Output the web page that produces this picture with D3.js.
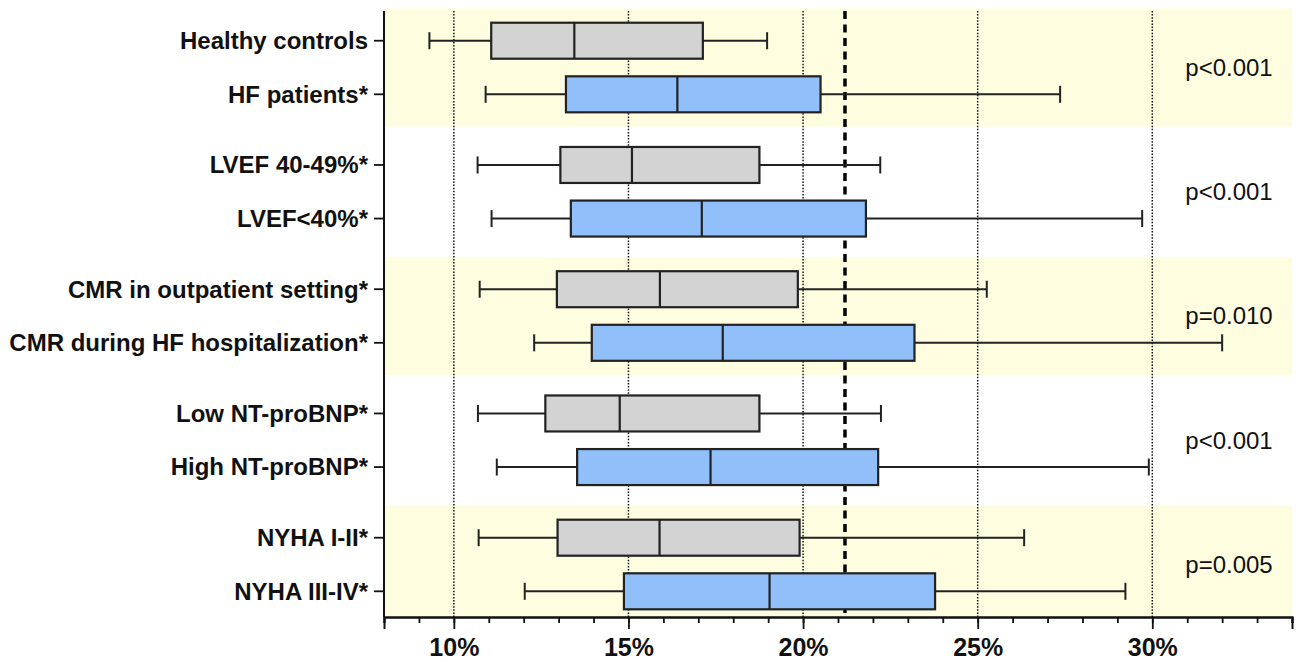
<!DOCTYPE html>
<html>
<head>
<meta charset="utf-8">
<script src="https://cdn.jsdelivr.net/npm/d3@7"></script>
<style>
  body { margin: 0; background: #fff; }
  svg { display: block; font-family: "Liberation Sans", Arial, sans-serif; }
</style>
</head>
<body>
<svg id="chart" width="1298" height="662"></svg>
<script>
// Rows, top to bottom (two per comparison group)
const categories = [
  'Healthy controls', 'HF patients*',
  'LVEF 40-49%*', 'LVEF<40%*',
  'CMR in outpatient setting*', 'CMR during HF hospitalization*',
  'Low NT-proBNP*', 'High NT-proBNP*',
  'NYHA I-II*', 'NYHA III-IV*',
];

// Box plot values, in percent
const whiskerLow  = [9.30, 10.91, 10.68, 11.08, 10.74, 12.30, 10.69, 11.23, 10.71, 12.03];
const q1          = [11.07, 13.21, 13.05, 13.35, 12.95, 13.95, 12.62, 13.53, 12.97, 14.87];
const median      = [13.45, 16.40, 15.10, 17.10, 15.90, 17.70, 14.75, 17.35, 15.89, 19.04];
const q3          = [17.13, 20.50, 18.75, 21.80, 19.85, 23.19, 18.75, 22.15, 19.90, 23.78];
const whiskerHigh = [18.97, 27.36, 22.21, 29.71, 25.26, 32.00, 22.23, 29.90, 26.33, 29.23];

// p-value for each group of two rows
const pValues = ['p<0.001', 'p<0.001', 'p=0.010', 'p<0.001', 'p=0.005'];

// reference (dashed) line
const threshold = 21.2;

const majorTicks = [10, 15, 20, 25, 30];

// ---------------------------------------------------------------------------
const svg = d3.select('#chart');

const plot = { left: 384, right: 1292, top: 8, bottom: 617 };
const colors = ['#d3d3d3', '#90bff9'];
const bandFill = '#fefde0';

const x = d3.scaleLinear().domain([8, 34]).range([plot.left, plot.right]);

// y works in "group units": group g is centred on g, its two rows sit either side
const y = d3.scaleLinear().domain([-0.479, 4.4225]).range([plot.top, plot.bottom]);
const rowOffset = 0.2157;   // half the row spacing, in group units
const bandHalf = 0.475;     // half height of a shaded band, in group units

const rows = categories.map((name, i) => ({
  name,
  group: Math.floor(i / 2),
  sub: i % 2,
  lo: whiskerLow[i],
  q1: q1[i],
  med: median[i],
  q3: q3[i],
  hi: whiskerHigh[i],
}));
const rowY = (d) => y(d.group + (d.sub === 0 ? -rowOffset : rowOffset));

svg.append('clipPath').attr('id', 'plot-clip')
  .append('rect')
  .attr('x', plot.left).attr('y', plot.top)
  .attr('width', plot.right - plot.left).attr('height', plot.bottom - plot.top);

// shaded bands for groups 1, 3, 5
svg.append('g').attr('clip-path', 'url(#plot-clip)')
  .selectAll('rect')
  .data(pValues.map((p, g) => g).filter((g) => g % 2 === 0))
  .enter()
  .append('rect')
  .attr('x', plot.left)
  .attr('width', plot.right - plot.left)
  .attr('y', (g) => y(g - bandHalf))
  .attr('height', (g) => y(g + bandHalf) - y(g - bandHalf))
  .attr('fill', bandFill);

// dotted gridlines
svg.append('g')
  .selectAll('line')
  .data(majorTicks)
  .enter()
  .append('line')
  .attr('x1', (d) => x(d)).attr('x2', (d) => x(d))
  .attr('y1', 11).attr('y2', plot.bottom)
  .attr('stroke', '#111')
  .attr('stroke-width', 1.5)
  .attr('stroke-dasharray', '1.5,1.6');

// threshold line
svg.append('line')
  .attr('x1', x(threshold)).attr('x2', x(threshold))
  .attr('y1', 11).attr('y2', plot.bottom)
  .attr('stroke', '#000')
  .attr('stroke-width', 3.5)
  .attr('stroke-dasharray', '8,5.5');

// boxes
const boxH = 36;
const capH = 17;
const boxes = svg.append('g').selectAll('g.box')
  .data(rows)
  .enter()
  .append('g')
  .attr('class', 'box')
  .attr('transform', (d) => `translate(0,${rowY(d)})`);

boxes.append('line')
  .attr('x1', (d) => x(d.lo)).attr('x2', (d) => x(d.q1))
  .attr('stroke', '#222').attr('stroke-width', 2);
boxes.append('line')
  .attr('x1', (d) => x(d.q3)).attr('x2', (d) => x(d.hi))
  .attr('stroke', '#222').attr('stroke-width', 2);
boxes.append('line')
  .attr('x1', (d) => x(d.lo)).attr('x2', (d) => x(d.lo))
  .attr('y1', -capH / 2).attr('y2', capH / 2)
  .attr('stroke', '#222').attr('stroke-width', 2);
boxes.append('line')
  .attr('x1', (d) => x(d.hi)).attr('x2', (d) => x(d.hi))
  .attr('y1', -capH / 2).attr('y2', capH / 2)
  .attr('stroke', '#222').attr('stroke-width', 2);
boxes.append('rect')
  .attr('x', (d) => x(d.q1))
  .attr('width', (d) => x(d.q3) - x(d.q1))
  .attr('y', -boxH / 2)
  .attr('height', boxH)
  .attr('fill', (d) => colors[d.sub])
  .attr('stroke', '#222')
  .attr('stroke-width', 2.2);
boxes.append('line')
  .attr('x1', (d) => x(d.med)).attr('x2', (d) => x(d.med))
  .attr('y1', -boxH / 2).attr('y2', boxH / 2)
  .attr('stroke', '#222').attr('stroke-width', 2.2);

// p-values
svg.append('g')
  .selectAll('text')
  .data(pValues)
  .enter()
  .append('text')
  .attr('x', 1229)
  .attr('y', (d, g) => y(g))
  .attr('dy', '0.35em')
  .attr('text-anchor', 'middle')
  .attr('font-size', 24)
  .attr('fill', '#111')
  .text((d) => d);

// x axis: minor ticks every 1%, major ticks with labels every 5%
const xMinor = svg.append('g')
  .attr('transform', `translate(0,${plot.bottom})`)
  .call(d3.axisBottom(x).tickValues(d3.range(8, 35)).tickSize(6).tickFormat(''));
const xMajor = svg.append('g')
  .attr('transform', `translate(0,${plot.bottom})`)
  .call(d3.axisBottom(x).tickValues(majorTicks).tickSize(12).tickPadding(9)
    .tickFormat((d) => `${d}%`));
[xMinor, xMajor].forEach((ax) => {
  ax.select('.domain').attr('stroke', '#111').attr('stroke-width', 2);
  ax.selectAll('.tick line').attr('stroke', '#111').attr('stroke-width', 1.8);
});
xMajor.selectAll('text')
  .attr('font-size', 25)
  .attr('font-weight', 'bold')
  .attr('fill', '#111');

// y axis with row labels
const yAxis = svg.append('g')
  .attr('transform', `translate(${plot.left},0)`);
yAxis.append('line')
  .attr('x1', 0).attr('x2', 0)
  .attr('y1', 11).attr('y2', plot.bottom)
  .attr('stroke', '#111').attr('stroke-width', 2);
const yTicks = yAxis.selectAll('g.tick')
  .data(rows)
  .enter()
  .append('g')
  .attr('class', 'tick')
  .attr('transform', (d) => `translate(0,${rowY(d)})`);
yTicks.append('line')
  .attr('x1', -10).attr('x2', 0)
  .attr('stroke', '#111').attr('stroke-width', 1.8);
yTicks.append('text')
  .attr('x', -16)
  .attr('dy', '0.35em')
  .attr('text-anchor', 'end')
  .attr('font-size', 24)
  .attr('font-weight', 'bold')
  .attr('fill', '#111')
  .text((d) => d.name);
</script>
</body>
</html>
